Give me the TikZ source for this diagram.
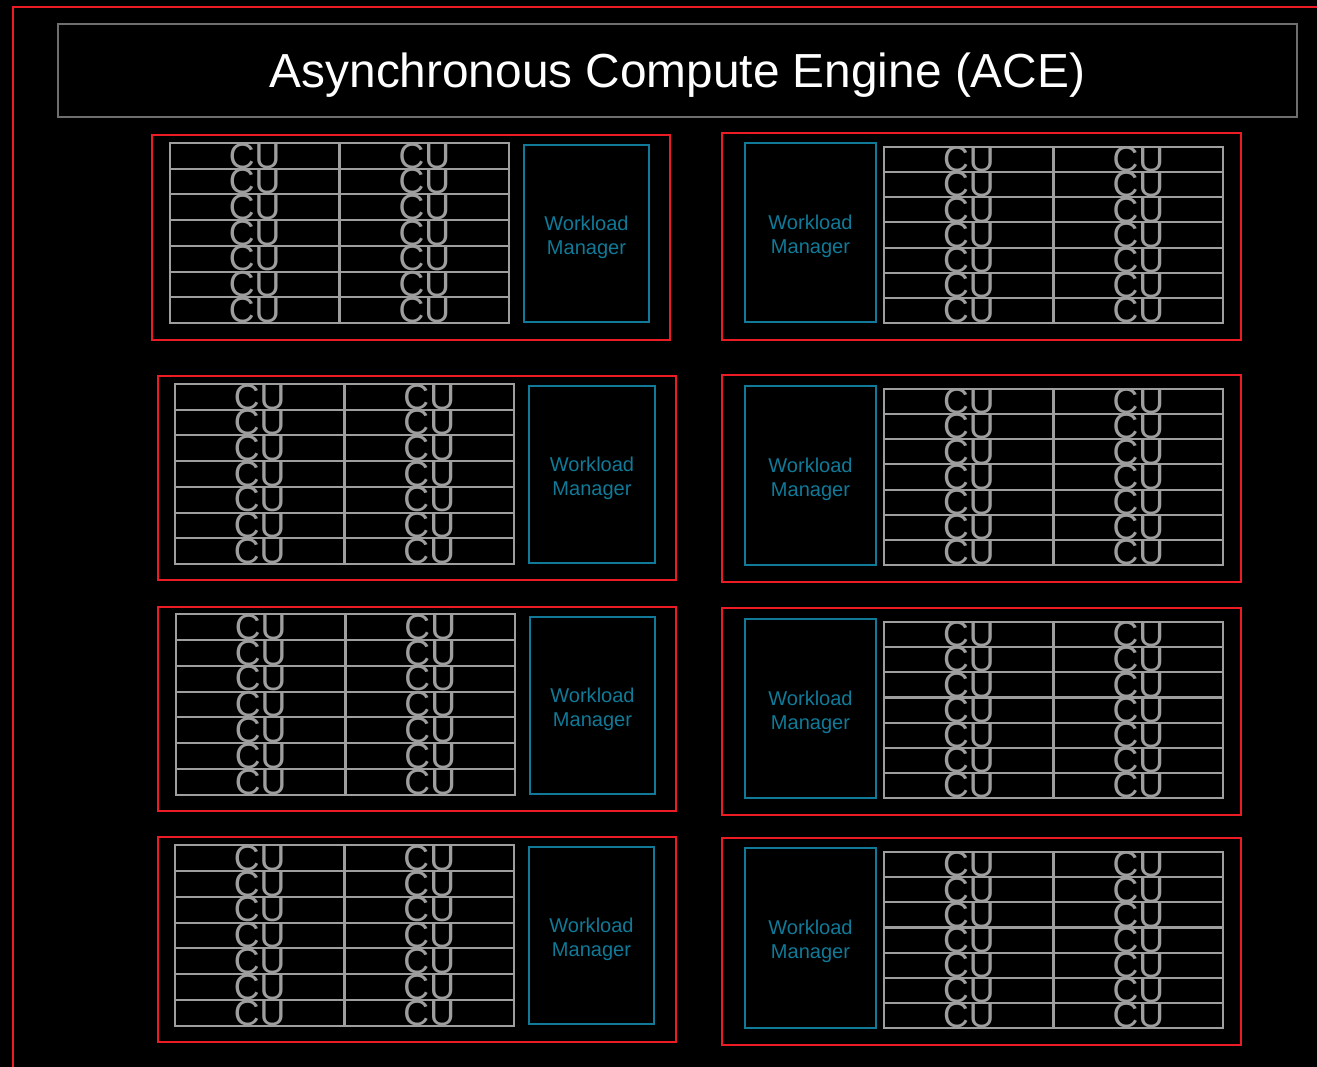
\documentclass[tikz,border=0pt]{standalone}
\usepackage{fontspec}
\setmainfont{Liberation Sans}
\usepackage{xcolor}
\definecolor{acered}{RGB}{237,28,36}
\definecolor{wmteal}{RGB}{16,122,152}
\definecolor{cugray}{RGB}{158,158,158}
\definecolor{titlegray}{RGB}{110,110,110}

\begin{document}
\begin{tikzpicture}[x=0.02cm,y=-0.02cm,
  panel/.style={draw=acered, line width=1.1pt, inner sep=0pt},
  wmbox/.style={draw=wmteal, line width=1.1pt, inner sep=0pt},
  wmtext/.style={align=center, text=wmteal, font=\fontsize{11.4}{13.7}\selectfont},
  cucell/.style={draw=cugray, line width=1.15pt, inner sep=0pt, text=cugray, font=\fontsize{20.3}{20}\selectfont}]
\useasboundingbox (0,0) rectangle (1317,1067);
\fill[black] (0,0) rectangle (1317,1067);
\begin{scope}
\clip (0,0) rectangle (1317,1067);
\draw[acered, line width=1.1pt] (13,7) rectangle (1340,1090);
\end{scope}

\node[draw=titlegray, line width=1.1pt, minimum width=24.78cm, minimum height=1.86cm, text depth=0pt, text=white, font=\fontsize{27.2}{30}\selectfont] (title) at (677.5,70.5) {Asynchronous Compute Engine (ACE)};

% panels: name / red box / grid x, top, bottom / workload manager box
\foreach \p/\rxa/\rya/\rxb/\ryb/\gx/\gya/\gyb/\wxa/\wya/\wxb/\wyb in {
  p1l/152/135/670/340/170/143/323/524/145/649/322,
  p2l/158/376/676/580/175/384/564/529/386/655/563,
  p3l/158/607/676/811/176/614/795/530/617/655/794,
  p4l/158/837/676/1042/175/845/1026/529/847/654/1024,
  p1r/722/133/1241/340/884/147/323/745/143/876/322,
  p2r/722/375/1241/582/884/389/565/745/386/876/565,
  p3r/722/608/1241/815/884/622/798/745/619/876/798,
  p4r/722/838/1241/1045/884/852/1028/745/848/876/1028}{
  \pgfmathsetmacro\rw{(\rxb-\rxa)*0.02}
  \pgfmathsetmacro\rh{(\ryb-\rya)*0.02}
  \pgfmathsetmacro\ww{(\wxb-\wxa)*0.02}
  \pgfmathsetmacro\wh{(\wyb-\wya)*0.02}
  \pgfmathsetmacro\rowh{(\gyb-\gya)/7}
  \pgfmathsetmacro\cuh{\rowh*0.02}
  \node[panel, minimum width=\rw cm, minimum height=\rh cm] (\p) at ({(\rxa+\rxb)/2},{(\rya+\ryb)/2}) {};
  \node[wmbox, minimum width=\ww cm, minimum height=\wh cm] (\p-wm) at ({(\wxa+\wxb)/2},{(\wya+\wyb)/2}) {};
  \node[wmtext, yshift=-2pt] (\p-wmlabel) at (\p-wm.center) {Workload\\Manager};
  \foreach \c in {0,1}{
    \foreach \r in {1,...,7}{
      \node[cucell, minimum width=3.39cm, minimum height=\cuh cm] (\p-cu\c\r) at ({\gx+84.75+169.5*\c},{\gya+(\r-0.5)*\rowh}) {\raisebox{-1pt}{CU}};
    }
  }
}
\end{tikzpicture}
\end{document}
